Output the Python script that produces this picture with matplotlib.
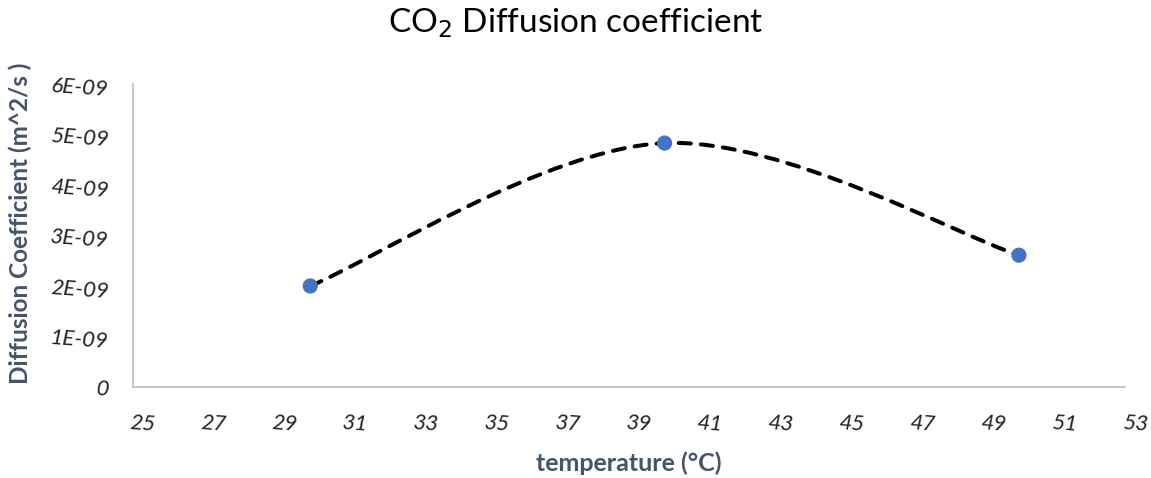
import matplotlib.pyplot as plt
import matplotlib.transforms as mtransforms
from matplotlib.path import Path
from matplotlib.patches import PathPatch

# Measured diffusion coefficients
temperature = [30, 40, 50]
diff_coef = [2.0e-9, 4.83e-9, 2.61e-9]

x_ticks = list(range(25, 54, 2))
y_ticks = [0, 1e-9, 2e-9, 3e-9, 4e-9, 5e-9, 6e-9]
y_tick_labels = ['0', '1E-09', '2E-09', '3E-09', '4E-09', '5E-09', '6E-09']

FONT = 'Lato'
LABEL_COLOR = '#44546A'
MARKER_COLOR = '#4472C4'


def smooth_path(xs, ys):
    """Bezier path through the points, spreadsheet-style smoothing"""
    pts = list(zip(xs, ys))
    ext = [pts[0]] + pts + [pts[-1]]
    verts = [pts[0]]
    codes = [Path.MOVETO]
    for i in range(len(pts) - 1):
        p0, p1, p2, p3 = ext[i], ext[i + 1], ext[i + 2], ext[i + 3]
        c1 = (p1[0] + (p2[0] - p0[0]) / 6, p1[1] + (p2[1] - p0[1]) / 6)
        c2 = (p2[0] - (p3[0] - p1[0]) / 6, p2[1] - (p3[1] - p1[1]) / 6)
        verts += [c1, c2, p2]
        codes += [Path.CURVE4] * 3
    return Path(verts, codes)


fig = plt.figure(figsize=(11.51, 4.78), dpi=100)
ax = fig.add_axes([0.1156, 0.1904, 0.862, 0.6339])

patch = PathPatch(smooth_path(temperature, diff_coef), facecolor='none',
                  edgecolor='black', linewidth=2.9, linestyle=(0, (3.0, 2.5)),
                  capstyle='round', zorder=2)
ax.add_patch(patch)
ax.scatter(temperature, diff_coef, s=120, color=MARKER_COLOR, zorder=3,
           edgecolors='none')

ax.set_xlim(25, 53)
ax.set_ylim(0, 6e-9)
ax.set_xticks(x_ticks)
ax.set_xticklabels([str(t) for t in x_ticks])
ax.set_yticks(y_ticks)
ax.set_yticklabels(y_tick_labels)

for side in ['top', 'right']:
    ax.spines[side].set_visible(False)
for side in ['left', 'bottom']:
    ax.spines[side].set_color('#BFBFBF')
    ax.spines[side].set_linewidth(1.2)

ax.tick_params(axis='both', length=0, labelsize=16, labelcolor='#222222')
ax.tick_params(axis='x', pad=19)
ax.tick_params(axis='y', pad=17)

# shift x labels a little right, as the spreadsheet renders them
shift = mtransforms.ScaledTranslation(10 / 100, 0, fig.dpi_scale_trans)
for lbl in ax.get_xticklabels():
    lbl.set_transform(lbl.get_transform() + shift)
for lbl in ax.get_xticklabels() + ax.get_yticklabels():
    lbl.set_fontstyle('italic')
    lbl.set_fontname(FONT)
    lbl.set_rotation(-4)

ax.set_xlabel('temperature (°C)', fontname=FONT, fontsize=18,
              fontweight='bold', color=LABEL_COLOR, labelpad=12)
ax.set_ylabel('Diffusion Coefficient (m^2/s )', fontname=FONT, fontsize=17.5,
              fontweight='bold', color=LABEL_COLOR)
ax.yaxis.set_label_coords(-0.102, 0.54)

fig.text(0.5, 0.952, 'CO$_2$ Diffusion coefficient', ha='center', va='center',
         fontname=FONT, fontsize=24, color='black')

fig.savefig('out.png', dpi=100)
